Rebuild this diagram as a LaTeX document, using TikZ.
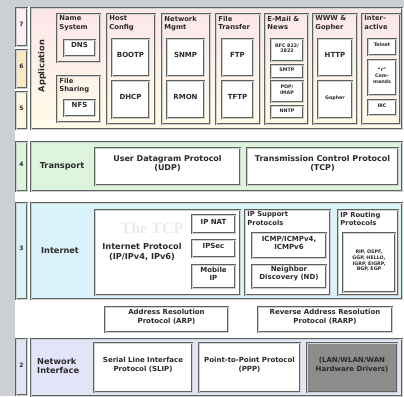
\documentclass[tikz,border=0pt]{standalone}
\usepackage{fontspec}
\setmainfont{DejaVu Sans}
\newfontfamily\markfont{Liberation Serif}
\usetikzlibrary{fit}
\definecolor{bggray}{HTML}{CDD0D4}
\definecolor{edge}{HTML}{5C625E}
\definecolor{apptop}{HTML}{FCE6E9}
\definecolor{appbot}{HTML}{FFFCE8}
\definecolor{numseven}{HTML}{FFF1F1}
\definecolor{numsix}{HTML}{FDE6C4}
\definecolor{numfive}{HTML}{FFF8DA}
\definecolor{trgreen}{HTML}{DDF5DD}
\definecolor{incyan}{HTML}{DAF3FA}
\definecolor{nilav}{HTML}{E4E4F8}
\definecolor{drvgray}{HTML}{8C8C8C}
\definecolor{txt}{HTML}{2A2A2A}

\tikzset{
  layerbox/.style={draw=edge, line width=0.5pt, double=edge!30, double distance=0.6pt, inner sep=0pt},
  numbox/.style={layerbox, font=\bfseries\fontsize{6}{7}\selectfont, text=txt},
  grpbox/.style={layerbox},
  protobox/.style={layerbox, fill=white, align=center, text=txt, font=\bfseries\fontsize{7}{8.3}\selectfont},
  tinybox/.style={protobox, font=\bfseries\fontsize{4.8}{5.8}\selectfont},
  bigbox/.style={protobox, font=\bfseries\fontsize{8}{9.3}\selectfont},
  grptitle/.style={anchor=north west, align=left, inner sep=0pt, text=txt, font=\bfseries\fontsize{6.8}{8.8}\selectfont},
  lbl/.style={inner sep=0pt, align=left, text=txt, font=\bfseries\fontsize{8.2}{9.8}\selectfont}
}

\begin{document}
\begin{tikzpicture}[x=1pt, y=-1pt]

% Background
\fill[bggray] (0,0) rectangle (404,396);
\fill[white] (15,7) rectangle (404,396);
\useasboundingbox (0,0) rectangle (404,396);

% ============================================================
% Layer numbers
% ============================================================
\node[numbox, fill=numseven, fit={(16,8) (27,46)}] (n7) {7};
\node[numbox, fill=numsix, fit={(16,50) (27,88)}] (n6) {6};
\node[numbox, fill=numfive, fit={(16,92) (27,129)}] (n5) {5};
\node[numbox, fill=trgreen, fit={(16,142) (27,191)}] (n4) {4};
\node[numbox, fill=incyan, fit={(16,203) (27,299)}] (n3) {3};
\node[numbox, fill=nilav, fit={(16,339) (27,395)}] (n2) {2};

% ============================================================
% Application layer
% ============================================================
\node[layerbox, top color=apptop, bottom color=appbot, fit={(31,8) (402,129)}] (app) {};
\node[lbl, rotate=90] (lapp) at (42,66) {Application};

% Name system / file sharing
\node[grpbox, fit={(57,14) (100,62)}] (namesys) {};
\node[grptitle] (tnamesys) at ([xshift=2.5pt, yshift=-2pt]namesys.north west) {Name\\System};
\node[protobox, fit={(64,40) (95,56)}] (dns) {DNS};
\node[grpbox, fit={(57,76) (100,122)}] (fileshare) {};
\node[grptitle] (tfileshare) at ([xshift=2.5pt, yshift=-2pt]fileshare.north west) {File\\Sharing};
\node[protobox, fit={(64,100) (95,116)}] (nfs) {NFS};

% Host config
\node[grpbox, fit={(107,14) (155,124)}] (hostcfg) {};
\node[grptitle] (thostcfg) at ([xshift=2.5pt, yshift=-2pt]hostcfg.north west) {Host\\Config};
\node[protobox, fit={(112,39) (149,76)}] (bootp) {BOOTP};
\node[protobox, fit={(112,81) (149,118)}] (dhcp) {DHCP};

% Network management
\node[grpbox, fit={(162,14) (210,124)}] (netmgmt) {};
\node[grptitle] (tnetmgmt) at ([xshift=2.5pt, yshift=-2pt]netmgmt.north west) {Network\\Mgmt};
\node[protobox, fit={(167,39) (204,76)}] (snmp) {SNMP};
\node[protobox, fit={(167,81) (204,118)}] (rmon) {RMON};

% File transfer
\node[grpbox, fit={(216,14) (260,124)}] (filexfer) {};
\node[grptitle] (tfilexfer) at ([xshift=2.5pt, yshift=-2pt]filexfer.north west) {File\\Transfer};
\node[protobox, fit={(222,39) (253,76)}] (ftp) {FTP};
\node[protobox, fit={(222,81) (253,118)}] (tftp) {TFTP};

% E-mail and news
\node[grpbox, fit={(265,14) (308,124)}] (email) {};
\node[grptitle] (temail) at ([xshift=2.5pt, yshift=-2pt]email.north west) {E-Mail \&\\News};
\node[tinybox, fit={(271,39) (303,61)}] (rfc) {RFC 822/\\2822};
\node[tinybox, fit={(271,65) (303,78)}] (smtp) {SMTP};
\node[tinybox, fit={(271,81) (303,102)}] (popimap) {POP/\\IMAP};
\node[tinybox, fit={(271,106) (303,118)}] (nntp) {NNTP};

% WWW and gopher
\node[grpbox, fit={(313,14) (357,124)}] (www) {};
\node[grptitle] (twww) at ([xshift=2.5pt, yshift=-2pt]www.north west) {WWW \&\\Gopher};
\node[protobox, fit={(318,39) (352,76)}] (http) {HTTP};
\node[tinybox, fit={(318,81) (352,118)}] (gopher) {Gopher};

% Interactive
\node[grpbox, fit={(362,14) (400,124)}] (interact) {};
\node[grptitle] (tinteract) at ([xshift=2.5pt, yshift=-2pt]interact.north west) {Inter-\\active};
\node[tinybox, fit={(368,39) (396,55)}] (telnet) {Telnet};
\node[tinybox, fit={(368,60) (396,95)}] (rcmd) {``r''\\Com-\\mands};
\node[tinybox, fit={(368,100) (396,115)}] (irc) {IRC};

% ============================================================
% Transport layer
% ============================================================
\node[layerbox, fill=trgreen, fit={(31,142) (402,191)}] (transport) {};
\node[lbl] (ltransport) at (62,166) {Transport};
\node[bigbox, fit={(95,148) (240,185)}] (udp) {User Datagram Protocol\\(UDP)};
\node[bigbox, fit={(247,148) (398,185)}] (tcp) {Transmission Control Protocol\\(TCP)};

% ============================================================
% Internet layer
% ============================================================
\node[layerbox, fill=incyan, fit={(31,203) (402,299)}] (internet) {};
\node[lbl] (linternet) at (60,251) {Internet};
\node[grpbox, fill=white, fit={(95,210) (240,295)}] (ipbox) {};
\node[text=black, opacity=0.08, inner sep=0pt, font=\markfont\bfseries\fontsize{16}{16}\selectfont] (mark) at (152,228) {The TCP};
\node[lbl, align=center] (lip) at (142,252) {Internet Protocol\\(IP/IPv4, IPv6)};
\node[protobox, fit={(192,215) (235,233)}] (ipnat) {IP NAT};
\node[protobox, fit={(192,240) (235,257)}] (ipsec) {IPSec};
\node[protobox, fit={(192,265) (235,288)}] (mobip) {Mobile\\IP};

\node[grpbox, fill=white, fit={(245,210) (330,295)}] (ipsupp) {};
\node[grptitle] (tipsupp) at ([xshift=2.5pt, yshift=-2pt]ipsupp.north west) {IP Support\\Protocols};
\node[protobox, fit={(252,233) (326,258)}] (icmp) {ICMP/ICMPv4,\\ICMPv6};
\node[protobox, fit={(252,265) (326,288)}] (nd) {Neighbor\\Discovery (ND)};

\node[grpbox, fill=white, fit={(338,210) (398,295)}] (iproute) {};
\node[grptitle] (tiproute) at ([xshift=2.5pt, yshift=-2pt]iproute.north west) {IP Routing\\Protocols};
\node[tinybox, fit={(343,233) (395,292)}] (routing) {RIP, OSPF,\\GGP, HELLO,\\IGRP, EIGRP,\\BGP, EGP};

% ============================================================
% Address resolution (between layers)
% ============================================================
\node[protobox, fit={(105,307) (228,332)}] (arp) {Address Resolution\\Protocol (ARP)};
\node[protobox, fit={(258,307) (392,332)}] (rarp) {Reverse Address Resolution\\Protocol (RARP)};

% ============================================================
% Network interface layer
% ============================================================
\node[layerbox, fill=nilav, fit={(31,339) (402,396)}] (netif) {};
\node[lbl, anchor=west] (lnetif) at (37,366) {Network\\Interface};
\node[protobox, fit={(94,343) (192,392)}] (slip) {Serial Line Interface\\Protocol (SLIP)};
\node[protobox, fit={(199,343) (300,392)}] (ppp) {Point-to-Point Protocol\\(PPP)};
\node[protobox, fill=drvgray, fit={(307,343) (397,392)}] (drivers) {(LAN/WLAN/WAN\\Hardware Drivers)};

\end{tikzpicture}
\end{document}
